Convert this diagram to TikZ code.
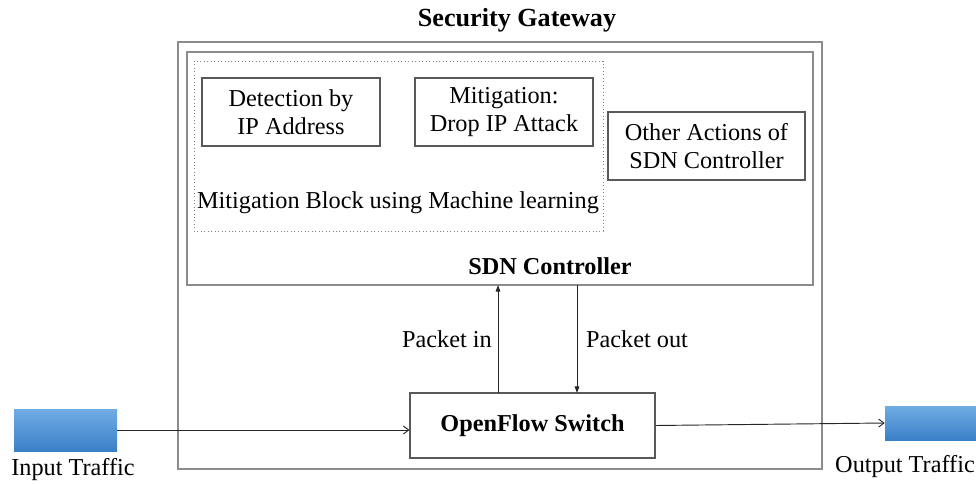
\documentclass[tikz,border=0pt]{standalone}
\usepackage{fontspec}
\setmainfont{Liberation Serif}
\usetikzlibrary{arrows.meta}
\definecolor{traffictop}{RGB}{112,172,228}
\definecolor{trafficbot}{RGB}{58,128,200}
\begin{document}
\begin{tikzpicture}[x=0.75pt,y=-0.75pt,
  every node/.style={font=\fontsize{18.2}{21}\selectfont, inner sep=0pt},
  boldtext/.style={font=\fontsize{18.2}{21}\selectfont\bfseries},
  frame/.style={draw=black!45, line width=0.8pt},
  blockbox/.style={draw=black!65, line width=0.8pt, align=center},
  traffic/.style={top color=traffictop, bottom color=trafficbot, draw=none},
  link/.style={black!85, line width=0.7pt, -{Straight Barb[length=4pt,width=6pt]}},
  pkt/.style={black!85, line width=0.7pt, -{Triangle[length=5pt,width=3.5pt]}}]
\useasboundingbox (0,0) rectangle (976,483);

% security gateway frame and title
\node[font=\fontsize{19.6}{23}\selectfont\bfseries] (title) at (517,20) {Security Gateway};
\draw[frame] (178,42) rectangle (822,469);

% SDN controller
\draw[frame] (187,52) rectangle (813,285);
\coordinate (ctrlin) at (498,285);
\coordinate (ctrlout) at (577,285);
\node[boldtext] (sdn) at (550,266) {SDN Controller};

% mitigation block
\draw[black!50, dotted, line width=0.6pt] (194,61) rectangle (603,231);
\node[blockbox, minimum width=178*0.75pt, minimum height=68*0.75pt] (det) at (291,112)
      {Detection by\\IP Address};
\node[blockbox, minimum width=178*0.75pt, minimum height=68*0.75pt] (mit) at (504,112)
      {Mitigation:\\Drop IP Attack};
\node (mblock) at (398,203) {Mitigation Block using Machine learning};

\node[blockbox, minimum width=197*0.75pt, minimum height=68*0.75pt] (other) at (706.5,146)
      {Other Actions of\\SDN Controller};

% OpenFlow switch
\node[blockbox, boldtext, minimum width=245*0.75pt, minimum height=65*0.75pt] (ofs)
      at (532.5,425.5) {OpenFlow Switch};
\coordinate (ofsin) at (498,393);
\coordinate (ofsout) at (577,393);

% traffic ends
\shade[traffic] (14,409) rectangle (117,451);
\node (inrect) at (65.5,430) [minimum width=103*0.75pt, minimum height=42*0.75pt] {};
\node (inlbl) at (73,470) {Input Traffic};
\shade[traffic] (885,406) rectangle (976,440);
\node (outrect) at (930.5,423) [minimum width=91*0.75pt, minimum height=34*0.75pt] {};
\node (outlbl) at (905,467) {Output Traffic};

% connectors
\draw[link] (inrect.east) -- (ofs.west |- inrect.east);
\draw[link] (ofs.east) -- (outrect.west);
\draw[pkt] (ofsin) -- (ctrlin);
\draw[pkt] (ctrlout) -- (ofsout);
\node (pin) at (447,339) {Packet in};
\node (pout) at (637,339) {Packet out};
\end{tikzpicture}
\end{document}
